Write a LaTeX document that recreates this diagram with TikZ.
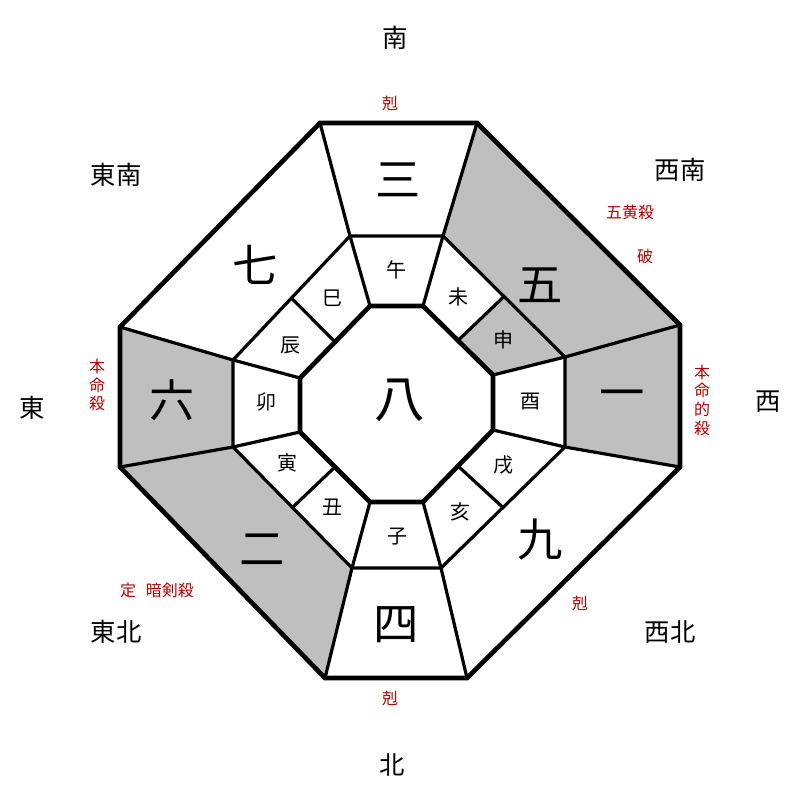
\documentclass[tikz,border=0pt]{standalone}
\usetikzlibrary{calc}
\usepackage{fontspec}
\newfontfamily\cjk{Noto Sans CJK JP}
\begin{document}
\begin{tikzpicture}[x=0.75pt,y=-0.75pt,
  thick line/.style={line width=3.5pt,line join=miter},
  rad/.style={line width=2.4pt},
  num/.style={font=\cjk\fontsize{34}{34}\selectfont},
  br/.style={font=\cjk\fontsize{15}{15}\selectfont},
  dir/.style={font=\cjk\fontsize{19}{19}\selectfont},
  red/.style={font=\cjk\fontsize{12}{14}\selectfont,text=red!70!black,align=center}]
\useasboundingbox (0,0) rectangle (800,800);
% outer vertices
\coordinate (O1) at (320,123); \coordinate (O2) at (477,123);
\coordinate (O3) at (680,325); \coordinate (O4) at (680,467);
\coordinate (O5) at (467,678); \coordinate (O6) at (325,678);
\coordinate (O7) at (120,467); \coordinate (O8) at (120,327);
% middle
\coordinate (M1) at (350,236); \coordinate (M2) at (443,236);
\coordinate (M3) at (565,357); \coordinate (M4) at (565,447);
\coordinate (M5) at (441,568); \coordinate (M6) at (352,568);
\coordinate (M7) at (233,447); \coordinate (M8) at (233,360);
% inner
\coordinate (I1) at (370,306); \coordinate (I2) at (423,306);
\coordinate (I3) at (493,375); \coordinate (I4) at (493,430);
\coordinate (I5) at (423,502); \coordinate (I6) at (370,502);
\coordinate (I7) at (300,432); \coordinate (I8) at (300,378);
\colorlet{sh}{black!25}
\fill[sh] (O2)--(O3)--(M3)--(M2)--cycle;
\fill[sh] (O3)--(O4)--(M4)--(M3)--cycle;
\fill[sh] (O8)--(O7)--(M7)--(M8)--cycle;
\fill[sh] (O7)--(O6)--(M6)--(M7)--cycle;
\fill[sh] ($(I2)!0.5!(I3)$)--($(M2)!0.5!(M3)$)--(M3)--(I3)--cycle;
% radial
\foreach \i in {1,...,8}{\draw[rad] (O\i)--(M\i); \draw[rad] (M\i)--(I\i);}
\foreach \a/\b in {2/3,4/5,6/7,8/1}{\draw[rad] ($(I\a)!0.5!(I\b)$)--($(M\a)!0.5!(M\b)$);}
\draw[rad] (M1)--(M2)--(M3)--(M4)--(M5)--(M6)--(M7)--(M8)--cycle;
\draw[thick line] (I1)--(I2)--(I3)--(I4)--(I5)--(I6)--(I7)--(I8)--cycle;
\draw[thick line] (O1)--(O2)--(O3)--(O4)--(O5)--(O6)--(O7)--(O8)--cycle;
% numbers
\node[num] (n3) at (398,180) {三};
\node[num] (n5) at (540,285) {五};
\node[num] (n1) at (622,400) {一};
\node[num] (n9) at (540,540) {九};
\node[num] (n4) at (396,625) {四};
\node[num] (n2) at (262,550) {二};
\node[num] (n6) at (172,400) {六};
\node[num] (n7) at (255,265) {七};
\node[num,font=\cjk\fontsize{38}{38}\selectfont] (n8) at (400,400) {八};
% branches
\node[br] (b1) at (396,270) {午};
\node[br] (b2) at (458,297) {未};
\node[br] (b3) at (503,340) {申};
\node[br] (b4) at (530,402) {酉};
\node[br] (b5) at (503,465) {戌};
\node[br] (b6) at (460,512) {亥};
\node[br] (b7) at (397,537) {子};
\node[br] (b8) at (332,507) {丑};
\node[br] (b9) at (287,463) {寅};
\node[br] (b10) at (266,402) {卯};
\node[br] (b11) at (290,345) {辰};
\node[br] (b12) at (332,298) {巳};
% directions
\node[dir] (d1) at (395,38) {南};
\node[dir] (d2) at (116,175) {東南};
\node[dir] (d3) at (680,170) {西南};
\node[dir] (d4) at (32,408) {東};
\node[dir] (d5) at (768,402) {西};
\node[dir] (d6) at (116,632) {東北};
\node[dir] (d7) at (670,632) {西北};
\node[dir] (d8) at (392,765) {北};
% red labels
\node[red] (r1) at (390,103) {剋};
\node[red] (r2) at (630,212) {五黄殺};
\node[red] (r3) at (645,256) {破};
\node[red] (r4) at (97,385) {本\\命\\殺};
\node[red] (r5) at (702,400) {本\\命\\的\\殺};
\node[red] (r6) at (157,590) {定\hspace{0.6em}暗剣殺};
\node[red] (r7) at (580,603) {剋};
\node[red] (r8) at (390,698) {剋};
\end{tikzpicture}
\end{document}
